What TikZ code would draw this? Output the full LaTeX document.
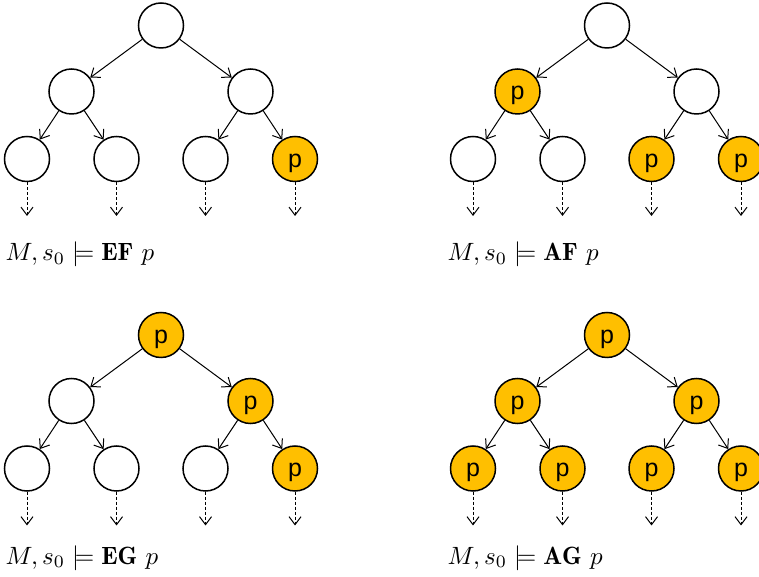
\documentclass[tikz,border=0pt]{standalone}
\usepackage{amsmath,amssymb}
\usepackage{fontspec}
\usetikzlibrary{calc,arrows.meta}
\newfontfamily\nodefont{Liberation Sans}
\definecolor{satfill}{RGB}{255,191,0}

\begin{document}
\begin{tikzpicture}[x=0.4pt,y=-0.4pt,>={Straight Barb[length=3.2pt,width=4.8pt]},
	st/.style={draw,circle,line width=0.6pt,minimum size=18pt,inner sep=0pt,font=\nodefont,text height=8.5pt,text depth=1.7pt,node contents={}},
	stp/.style={st,fill=satfill,node contents={p}}]
	\useasboundingbox (0,0) rectangle (759,577);
	%one tree per entry: name, root position, styles of the seven states
	%%then the operator and where its formula sits
	\foreach \tr/\ox/\oy/\sa/\sb/\sc/\sd/\se/\sf/\sg/\op/\lx/\ly in {
		ef/161/25.5/st/st/st/st/st/st/stp/EF/5/261,
		af/607/25.5/st/stp/st/st/st/stp/stp/AF/447/261,
		eg/161/335/stp/st/stp/st/st/st/stp/EG/5/564,
		ag/607/335/stp/stp/stp/stp/stp/stp/stp/AG/447/564}{
		\node (\tr-0) at (\ox,\oy) [\sa];
		\node (\tr-1) at (\ox-89.5,\oy+66) [\sb];
		\node (\tr-2) at (\ox+89.5,\oy+66) [\sc];
		\node (\tr-3) at (\ox-134,\oy+133.5) [\sd];
		\node (\tr-4) at (\ox-44.5,\oy+133.5) [\se];
		\node (\tr-5) at (\ox+44.5,\oy+133.5) [\sf];
		\node (\tr-6) at (\ox+134,\oy+133.5) [\sg];

		\draw[->] (\tr-0)--(\tr-1);
		\draw[->] (\tr-0)--(\tr-2);
		\draw[->] (\tr-1)--(\tr-3);
		\draw[->] (\tr-1)--(\tr-4);
		\draw[->] (\tr-2)--(\tr-5);
		\draw[->] (\tr-2)--(\tr-6);
		%% paths go on below the leaves
		\foreach \k in {3,...,6}{
			\coordinate (\tr-x\k) at ($(\tr-\k)+(0,57)$);
			\draw[->,dash pattern=on 1.2pt off 0.8pt] (\tr-\k)--(\tr-x\k);
			}

		\node[anchor=base west,inner sep=0pt] (\tr-f) at (\lx,\ly) {$M, s_0 \models \mathbf{\op}\ p$};
		}
\end{tikzpicture}
\end{document}
